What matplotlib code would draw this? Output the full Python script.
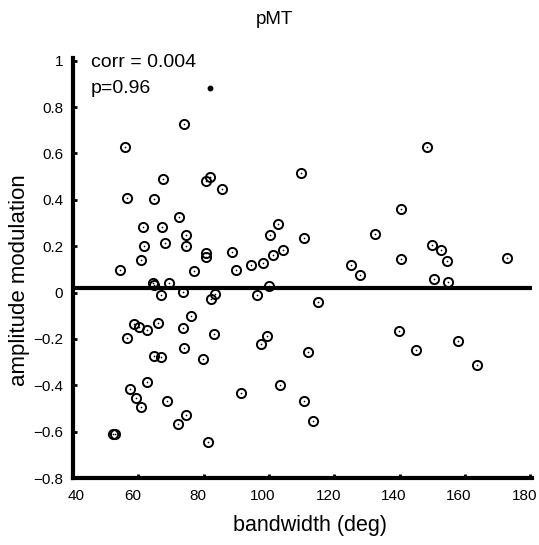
import matplotlib
matplotlib.use("Agg")
import matplotlib.pyplot as plt
from matplotlib.transforms import ScaledTranslation

plt.rcParams['font.family'] = ['Liberation Sans', 'DejaVu Sans']

bandwidth = [73.9, 56.0, 67.6, 80.7, 82.0, 85.5, 56.4, 64.8, 72.5, 61.5,
             67.3, 74.5, 61.7, 68.3, 74.5, 80.6, 80.8, 88.6, 60.9, 54.5,
             77.1, 64.5, 64.7, 69.4, 66.9, 73.8, 83.6, 82.3, 76.2, 58.6,
             60.3, 62.7, 66.1, 73.6, 83.3, 56.4, 73.9, 64.8, 66.9, 79.8,
             62.7, 57.5, 59.2, 60.9, 68.9, 74.6, 72.1, 52.3, 52.9, 81.3,
             109.8, 102.7, 100.3, 110.7, 132.5, 104.4, 101.3, 90.0, 94.6, 98.1,
             125.0, 127.7, 99.9, 96.4, 115.1, 99.5, 97.5, 112.0, 103.3, 91.3,
             110.6, 113.6, 148.3, 140.5, 149.8, 152.5, 154.6, 140.3, 172.8, 150.4,
             154.7, 139.9, 145.0, 157.9, 163.6]
amp_mod = [0.728, 0.628, 0.490, 0.481, 0.497, 0.447, 0.407, 0.403, 0.328, 0.282,
           0.283, 0.247, 0.203, 0.216, 0.201, 0.172, 0.153, 0.175, 0.141, 0.099,
           0.095, 0.043, 0.033, 0.043, -0.011, 0.004, -0.006, -0.028, -0.103, -0.136,
           -0.148, -0.161, -0.132, -0.152, -0.177, -0.197, -0.240, -0.273, -0.278, -0.287,
           -0.384, -0.416, -0.453, -0.493, -0.466, -0.528, -0.569, -0.612, -0.612, -0.645,
           0.517, 0.296, 0.250, 0.236, 0.252, 0.183, 0.161, 0.099, 0.121, 0.128,
           0.118, 0.075, 0.030, -0.011, -0.040, -0.188, -0.224, -0.257, -0.397, -0.435,
           -0.467, -0.552, 0.628, 0.359, 0.207, 0.184, 0.135, 0.145, 0.150, 0.059,
           0.045, -0.166, -0.247, -0.207, -0.313]

extra_x = [82.0]
extra_y = [0.881]

mean_level = 0.02
corr_text = "corr = 0.004"
p_text = "p=0.96"
title = "pMT"
xlabel = "bandwidth (deg)"
ylabel = "amplitude modulation"
xticks = [40, 60, 80, 100, 120, 140, 160, 180]
yticks = [-0.8, -0.6, -0.4, -0.2, 0, 0.2, 0.4, 0.6, 0.8, 1]
ytick_labels = ['\u22120.8', '\u22120.6', '\u22120.4', '\u22120.2', '0',
                '0.2', '0.4', '0.6', '0.8', '1']

W, H = 539, 545
fig = plt.figure(figsize=(W / 100, H / 100), dpi=100)
ax = fig.add_axes([73 / W, 1 - 478 / H, (532 - 73) / W, (478 - 58) / H])

ax.plot(bandwidth, amp_mod, linestyle='none', marker='o', markersize=6.6,
        markerfacecolor='none', markeredgecolor='black', markeredgewidth=1.4)
ax.plot(bandwidth, amp_mod, linestyle='none', marker='o', markersize=1.2,
        markerfacecolor='black', markeredgecolor='black', markeredgewidth=0)
ax.plot(extra_x, extra_y, linestyle='none', marker='o', markersize=3.2,
        color='black')

ax.axhline(mean_level, color='black', linewidth=3)

ax.set_xlim(40, 180.5)
ax.set_ylim(-0.8, 1.012)
ax.set_xticks(xticks)
ax.set_yticks(yticks)
ax.set_xticklabels([str(t) for t in xticks])
ax.set_yticklabels(ytick_labels)

for s in ['top', 'right']:
    ax.spines[s].set_visible(False)
for s in ['left', 'bottom']:
    ax.spines[s].set_linewidth(3)
ax.tick_params(direction='in', length=3, width=2, labelsize=11)
ax.tick_params(axis='x', pad=8)
ax.tick_params(axis='y', pad=7)

# shift x tick labels slightly as in the reference
for i, lab in enumerate(ax.get_xticklabels()):
    dx = 3 if i == 0 else -6
    lab.set_transform(lab.get_transform() + ScaledTranslation(dx / 100, 0, fig.dpi_scale_trans))

ax.text(45.5, 0.994, corr_text, fontsize=14, va='center', ha='left')
ax.text(45.5, 0.882, p_text, fontsize=14, va='center', ha='left')

fig.text(274 / W, 1 - 20 / H, title, fontsize=13.5, ha='center', va='center')
fig.text(310 / W, 1 - 526 / H, xlabel, fontsize=15.5, ha='center', va='center')
fig.text(20 / W, 1 - 280 / H, ylabel, fontsize=16, ha='center', va='center',
         rotation=90)

fig.savefig("out.png", dpi=100)
